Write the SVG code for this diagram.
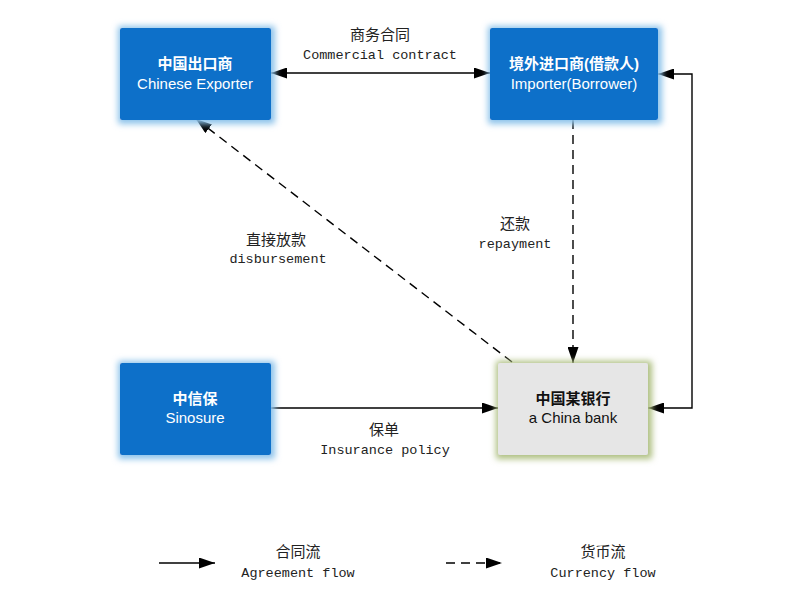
<svg xmlns="http://www.w3.org/2000/svg" width="800" height="600" viewBox="0 0 800 600">
<defs>
<style>
.box{fill:#0d6fc9;}
.bank{fill:#e6e6e6;}
.bt{font-family:"Liberation Sans","Noto Sans CJK SC",sans-serif;font-size:15px;fill:#ffffff;text-anchor:middle;}
.bt2{font-family:"Liberation Sans","Noto Sans CJK SC",sans-serif;font-size:15px;fill:#111111;text-anchor:middle;}
.cn{font-weight:bold;}
.lbl{font-family:"Liberation Mono","Noto Sans CJK SC",monospace;font-size:13.5px;fill:#222222;text-anchor:middle;}
.lcn{font-family:"Noto Sans CJK SC",sans-serif;font-size:15px;fill:#222222;text-anchor:middle;}
.ln{fill:none;stroke:#000;stroke-width:1.4;}
.dash{stroke-dasharray:9 6;}
</style>
<marker id="ah" viewBox="0 0 16 11" refX="16" refY="5.5" markerWidth="16" markerHeight="11" markerUnits="userSpaceOnUse" orient="auto-start-reverse">
<path d="M0,0 L16,5.5 L0,11 Z" fill="#000"/>
</marker>
<filter id="glowB" x="-20%" y="-25%" width="140%" height="150%">
<feFlood flood-color="#8cc2ea" result="c"/>
<feComposite in="c" in2="SourceAlpha" operator="in" result="s"/>
<feMorphology in="s" operator="dilate" radius="3" result="d"/>
<feGaussianBlur in="d" stdDeviation="3" result="b"/>
<feOffset in="b" dx="1" dy="1" result="o"/>
<feMerge><feMergeNode in="o"/><feMergeNode in="SourceGraphic"/></feMerge>
</filter>
<filter id="glowG" x="-20%" y="-25%" width="140%" height="150%">
<feFlood flood-color="#adbf80" result="c"/>
<feComposite in="c" in2="SourceAlpha" operator="in" result="s"/>
<feMorphology in="s" operator="dilate" radius="3" result="d"/>
<feGaussianBlur in="d" stdDeviation="3" result="b"/>
<feOffset in="b" dx="1" dy="1" result="o"/>
<feMerge><feMergeNode in="o"/><feMergeNode in="SourceGraphic"/></feMerge>
</filter>
</defs>
<rect width="800" height="600" fill="#ffffff"/>

<g id="connectors">
<line class="ln" x1="271" y1="73" x2="490" y2="73" marker-start="url(#ah)" marker-end="url(#ah)"/>
<polyline class="ln" points="658,74 692,74 692,408 648,408" marker-start="url(#ah)" marker-end="url(#ah)"/>
<line class="ln dash" x1="573" y1="120" x2="573" y2="363" marker-end="url(#ah)"/>
<line class="ln dash" x1="512" y1="362" x2="196" y2="119" marker-end="url(#ah)"/>
<line class="ln" x1="271" y1="408" x2="498" y2="408" marker-end="url(#ah)"/>
</g>

<g id="labels">
<text class="lcn" x="380" y="40">商务合同</text>
<text class="lbl" x="380" y="59">Commercial contract</text>
<text class="lcn" x="515" y="229">还款</text>
<text class="lbl" x="515" y="248">repayment</text>
<text class="lcn" x="276" y="245">直接放款</text>
<text class="lbl" x="278" y="263">disbursement</text>
<text class="lcn" x="384" y="435">保单</text>
<text class="lbl" x="385" y="454">Insurance policy</text>
</g>

<g id="node-exporter">
<rect class="box" x="120" y="28" width="151" height="92" rx="2" filter="url(#glowB)"/>
<text class="bt cn" x="195" y="69">中国出口商</text>
<text class="bt" x="195" y="89">Chinese Exporter</text>
</g>
<g id="node-importer">
<rect class="box" x="490" y="28" width="168" height="92" rx="2" filter="url(#glowB)"/>
<text class="bt cn" x="574" y="69">境外进口商(借款人)</text>
<text class="bt" x="574" y="89">Importer(Borrower)</text>
</g>
<g id="node-sinosure">
<rect class="box" x="120" y="363" width="151" height="92" rx="2" filter="url(#glowB)"/>
<text class="bt cn" x="195" y="404">中信保</text>
<text class="bt" x="195" y="423">Sinosure</text>
</g>
<g id="node-bank">
<rect class="bank" x="498" y="363" width="150" height="92" rx="2" filter="url(#glowG)"/>
<text class="bt2 cn" x="573" y="404">中国某银行</text>
<text class="bt2" x="573" y="423">a China bank</text>
</g>

<g id="legend">
<line class="ln" x1="159" y1="563" x2="215" y2="563" marker-end="url(#ah)"/>
<text class="lcn" x="298" y="557">合同流</text>
<text class="lbl" x="298" y="577">Agreement flow</text>
<line class="ln dash" x1="446" y1="563" x2="502" y2="563" marker-end="url(#ah)"/>
<text class="lcn" x="603" y="557">货币流</text>
<text class="lbl" x="603" y="577">Currency flow</text>
</g>
</svg>
